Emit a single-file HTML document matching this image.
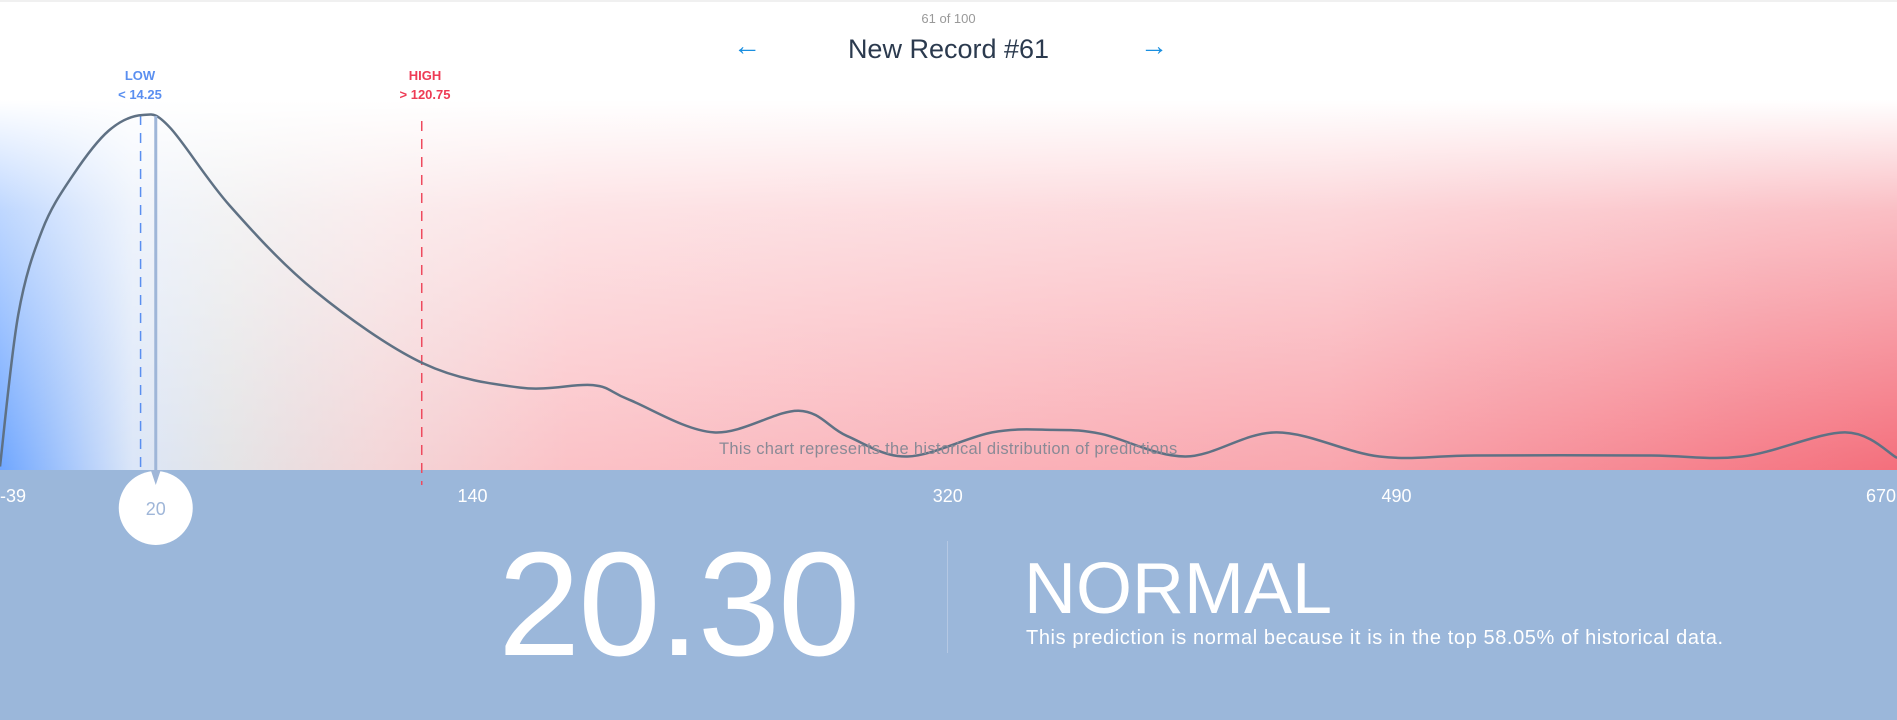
<!DOCTYPE html>
<html><head><meta charset="utf-8"><style>
body{margin:0;width:1897px;height:720px;overflow:hidden;font-family:"Liberation Sans",sans-serif;background:#fff;position:relative}
#chart{position:absolute;left:0;top:0}
.t{position:absolute;white-space:nowrap}
</style></head><body>
<div style="position:absolute;left:0;top:0;width:1897px;height:2px;background:#f0f0f0"></div>
<div class="t" style="left:0;width:1897px;text-align:center;top:11px;font-size:13px;color:#999">61 of 100</div>
<div class="t" style="left:733px;top:30px;font-size:28px;color:#1a8fe0">←</div>
<div class="t" style="left:0;width:1897px;text-align:center;top:34px;font-size:27px;color:#2b3a4e">New Record #61</div>
<div class="t" style="left:1140px;top:30px;font-size:28px;color:#1a8fe0">→</div>
<svg id="chart" width="1897" height="720">
<defs>
<linearGradient id="hg" x1="0" x2="1" y1="0" y2="0">
<stop offset="0" stop-color="#6fa6ff"/><stop offset="0.07" stop-color="#dbe6f8"/><stop offset="0.12" stop-color="#e4e4e6"/><stop offset="0.2" stop-color="#f3d6d8"/><stop offset="0.3" stop-color="#fbc2c7"/><stop offset="0.7" stop-color="#f9a6ae"/><stop offset="1" stop-color="#f46f7c"/>
</linearGradient>
<linearGradient id="vg" x1="0" x2="0" y1="0" y2="1">
<stop offset="0" stop-color="#fff" stop-opacity="1"/><stop offset="0.3" stop-color="#fff" stop-opacity="0.55"/><stop offset="1" stop-color="#fff" stop-opacity="0"/>
</linearGradient>
</defs>
<rect x="0" y="100" width="1897" height="370" fill="url(#hg)"/>
<rect x="0" y="100" width="1897" height="370" fill="url(#vg)"/>
<rect x="0" y="470" width="1897" height="250" fill="#9bb7da"/>
<g id="g"></g>
</svg>
<div class="t" style="left:90px;width:100px;text-align:center;top:66px;font-size:13px;font-weight:bold;color:#5a8ff0;line-height:19px">LOW<br>&lt; 14.25</div>
<div class="t" style="left:375px;width:100px;text-align:center;top:66px;font-size:13px;font-weight:bold;color:#ee3b55;line-height:19px">HIGH<br>&gt; 120.75</div>
<div class="t" style="left:719px;top:440px;font-size:16.5px;letter-spacing:0.3px;color:#8a8a96">This chart represents the historical distribution of predictions</div>
<div class="t" style="left:498px;top:520px;font-size:148px;color:#fff;font-weight:300;letter-spacing:-2px">20.30</div>
<div style="position:absolute;left:947px;top:541px;width:1px;height:112px;background:#b5c8e3"></div>
<div class="t" style="left:1024px;top:548px;font-size:72px;color:#fff;font-weight:300">NORMAL</div>
<div class="t" style="left:1026px;top:627px;font-size:20px;letter-spacing:0.6px;color:#fff">This prediction is normal because it is in the top 58.05% of historical data.</div>
<script>
const xs=[-39,-32.1,-23,-11.5,2.2,15.1,25.2,48.1,80.2,121.4,158.1,185.6,199.3,231.4,263.5,281.8,304.7,336.8,359.7,378,410.1,444.5,483.5,520.1,584.3,620.9,659.9,679.6];
const density=[1,43.7,67.6,82.9,95.6,100,96.6,74.4,50.5,30,23.2,23.9,19.8,10.6,16.7,9.6,3.8,10.6,11.3,10.2,3.8,10.6,3.8,4.1,4.1,3.8,10.6,3.4];
const ticks=[-39,140,320,490,670];
const lowThreshold=14.25, highThreshold=120.75, prediction=20;
const X=v=>(v+39)*2.64, Y=d=>470-d*3.55;
const NS="http://www.w3.org/2000/svg", g=document.getElementById('g');
function mk(t,a){const e=document.createElementNS(NS,t);for(const k in a)e.setAttribute(k,a[k]);g.appendChild(e);return e;}
const P=xs.map((x,i)=>[X(x),Y(density[i])]);
let d=`M${P[0][0]},${P[0][1]}`;
for(let i=0;i<P.length-1;i++){const p0=P[i-1]||P[i],p1=P[i],p2=P[i+1],p3=P[i+2]||p2;
d+=` C${p1[0]+(p2[0]-p0[0])/6},${p1[1]+(p2[1]-p0[1])/6} ${p2[0]-(p3[0]-p1[0])/6},${p2[1]-(p3[1]-p1[1])/6} ${p2[0]},${p2[1]}`;}
const low=mk('line',{x1:X(lowThreshold),x2:X(lowThreshold),y1:115,y2:470,stroke:'#5a8ff0','stroke-width':1.5,'stroke-dasharray':'10,8'});


const high=mk('line',{x1:X(highThreshold),x2:X(highThreshold),y1:121,y2:485,stroke:'#ee4a5e','stroke-width':1.5,'stroke-dasharray':'10,8'});


const curve=mk('path',{d:d,fill:'none',stroke:'#5f7184','stroke-width':2.5});


const px=X(prediction);
const ml=mk('line',{x1:px,x2:px,y1:116,y2:478,stroke:'#9fb6d8','stroke-width':3});


const mc=mk('circle',{cx:px,cy:508,r:37,fill:'#fff'});


const ma=mk('path',{d:`M${px-5},470 L${px+5},470 L${px},485 Z`,fill:'#9fb6d8'});


const mt=mk('text',{x:px,y:515,'text-anchor':'middle','font-size':18,fill:'#9fb6d8','font-family':'Liberation Sans'});
mt.textContent=prediction;


ticks.forEach(t=>{let x=X(t);let a='middle';if(x<10){x=0;a='start';}if(x>1860){x=1866;a='start';}
const e=mk('text',{x:x,y:502,'text-anchor':a,'font-size':18,fill:'#fff','font-family':'Liberation Sans'});
e.textContent=t;

});
</script>
</body></html>
